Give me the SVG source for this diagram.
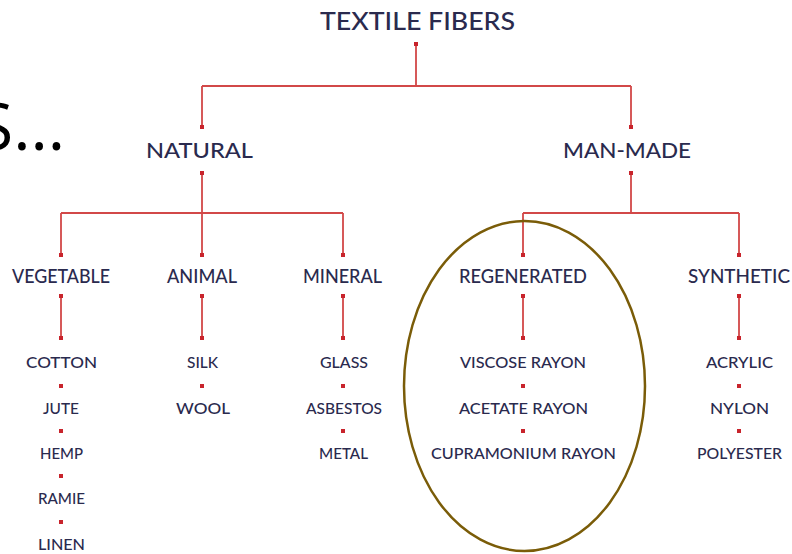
<svg xmlns="http://www.w3.org/2000/svg" width="792" height="554" viewBox="0 0 792 554">
<defs>
<style>
.t{font-family:Lato,"Open Sans","Liberation Sans",sans-serif;fill:#2a2a4e;text-anchor:middle;font-weight:500}
.t0{font-size:25px}
.t1{font-size:22px}
.t2{font-size:19px}
.t3{font-size:16px}
.ln{stroke:#d24848;stroke-width:1.8;fill:none}
.d{fill:#c8242c}
</style>
</defs>
<rect width="792" height="554" fill="#ffffff"/>
<text x="-23" y="150" style="font-family:'Open Sans','Liberation Sans',sans-serif;font-size:66px;fill:#000">S...</text>

<g id="connectors">
<path class="ln" d="M416 44V86M202 86H631M202 86V127M631 86V127"/>
<path class="ln" d="M202 173V213M61 213H343M61 213V255M202 213V255M343 213V255"/>
<path class="ln" d="M631 173V213M523 213H739M523 213V255M739 213V255"/>
<path class="ln" d="M61 296V338M202 296V338M343 296V338M523 296V338M739 296V338"/>
<g class="d">
<rect x="414" y="42" width="4" height="4"/>
<rect x="200" y="125" width="4" height="4"/><rect x="629" y="125" width="4" height="4"/>
<rect x="200" y="171" width="4" height="4"/><rect x="629" y="171" width="4" height="4"/>
<rect x="59" y="253" width="4" height="4"/><rect x="200" y="253" width="4" height="4"/><rect x="341" y="253" width="4" height="4"/><rect x="521" y="253" width="4" height="4"/><rect x="737" y="253" width="4" height="4"/>
<rect x="59" y="294" width="4" height="4"/><rect x="200" y="294" width="4" height="4"/><rect x="341" y="294" width="4" height="4"/><rect x="521" y="294" width="4" height="4"/><rect x="737" y="294" width="4" height="4"/>
<rect x="59" y="336" width="4" height="4"/><rect x="200" y="336" width="4" height="4"/><rect x="341" y="336" width="4" height="4"/><rect x="521" y="336" width="4" height="4"/><rect x="737" y="336" width="4" height="4"/>
<rect x="59" y="384" width="4" height="4"/><rect x="59" y="429" width="4" height="4"/><rect x="59" y="474" width="4" height="4"/><rect x="59" y="520" width="4" height="4"/>
<rect x="200" y="384" width="4" height="4"/>
<rect x="341" y="384" width="4" height="4"/><rect x="341" y="429" width="4" height="4"/>
<rect x="521" y="384" width="4" height="4"/><rect x="521" y="429" width="4" height="4"/>
<rect x="737" y="384" width="4" height="4"/><rect x="737" y="429" width="4" height="4"/>
</g>
</g>

<g id="textile-fibers"><text class="t t0" x="417.5" y="30" textLength="195" lengthAdjust="spacingAndGlyphs">TEXTILE FIBERS</text></g>
<g id="natural"><text class="t t1" x="199.5" y="158" textLength="107" lengthAdjust="spacingAndGlyphs">NATURAL</text></g>
<g id="man-made"><text class="t t1" x="627" y="158" textLength="128" lengthAdjust="spacingAndGlyphs">MAN-MADE</text></g>

<g id="vegetable"><text class="t t2" x="61" y="283" textLength="98" lengthAdjust="spacingAndGlyphs">VEGETABLE</text></g>
<g id="animal"><text class="t t2" x="202" y="283" textLength="70" lengthAdjust="spacingAndGlyphs">ANIMAL</text></g>
<g id="mineral"><text class="t t2" x="342.5" y="283" textLength="79" lengthAdjust="spacingAndGlyphs">MINERAL</text></g>
<g id="regenerated"><text class="t t2" x="523" y="283" textLength="128" lengthAdjust="spacingAndGlyphs">REGENERATED</text></g>
<g id="synthetic"><text class="t t2" x="739" y="283" textLength="102" lengthAdjust="spacingAndGlyphs">SYNTHETIC</text></g>

<g id="vegetable-items">
<text class="t t3" x="61.5" y="368" textLength="71" lengthAdjust="spacingAndGlyphs">COTTON</text>
<text class="t t3" x="61" y="414" textLength="36" lengthAdjust="spacingAndGlyphs">JUTE</text>
<text class="t t3" x="61.5" y="459" textLength="43" lengthAdjust="spacingAndGlyphs">HEMP</text>
<text class="t t3" x="61.5" y="504" textLength="47" lengthAdjust="spacingAndGlyphs">RAMIE</text>
<text class="t t3" x="61.5" y="550" textLength="47" lengthAdjust="spacingAndGlyphs">LINEN</text>
</g>
<g id="animal-items">
<text class="t t3" x="202.5" y="368" textLength="31" lengthAdjust="spacingAndGlyphs">SILK</text>
<text class="t t3" x="203" y="414" textLength="54" lengthAdjust="spacingAndGlyphs">WOOL</text>
</g>
<g id="mineral-items">
<text class="t t3" x="344" y="368" textLength="48" lengthAdjust="spacingAndGlyphs">GLASS</text>
<text class="t t3" x="344" y="414" textLength="76" lengthAdjust="spacingAndGlyphs">ASBESTOS</text>
<text class="t t3" x="343.5" y="459" textLength="49" lengthAdjust="spacingAndGlyphs">METAL</text>
</g>
<g id="regenerated-items">
<text class="t t3" x="523" y="368" textLength="126" lengthAdjust="spacingAndGlyphs">VISCOSE RAYON</text>
<text class="t t3" x="523.5" y="414" textLength="129" lengthAdjust="spacingAndGlyphs">ACETATE RAYON</text>
<text class="t t3" x="523.5" y="459" textLength="185" lengthAdjust="spacingAndGlyphs">CUPRAMONIUM RAYON</text>
</g>
<g id="synthetic-items">
<text class="t t3" x="739.5" y="368" textLength="67" lengthAdjust="spacingAndGlyphs">ACRYLIC</text>
<text class="t t3" x="739.5" y="414" textLength="59" lengthAdjust="spacingAndGlyphs">NYLON</text>
<text class="t t3" x="739.5" y="459" textLength="85" lengthAdjust="spacingAndGlyphs">POLYESTER</text>
</g>

<g id="highlight">
<ellipse cx="524.5" cy="386" rx="120.5" ry="165" fill="none" stroke="#7a5c08" stroke-width="2.5"/>
</g>
</svg>
